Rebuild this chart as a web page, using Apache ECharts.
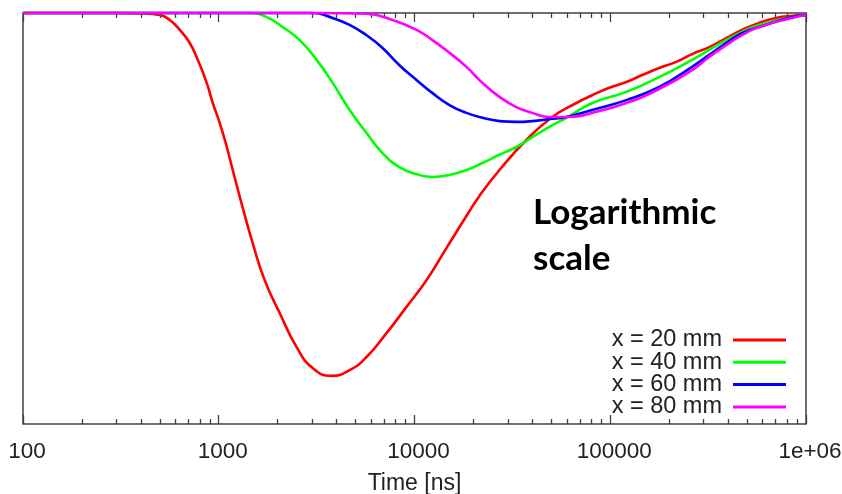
<!DOCTYPE html>
<html>
<head>
<meta charset="utf-8">
<script src="https://cdn.jsdelivr.net/npm/echarts@6/dist/echarts.min.js"></script>
<style>
  html, body { margin: 0; padding: 0; background: #fff; }
  #chart { width: 842px; height: 494px; }
</style>
</head>
<body>
<div id="chart"></div>
<script>
// Signal response vs. time at four distances (time in ns, normalised amplitude)
const seriesNames = ['x = 20 mm', 'x = 40 mm', 'x = 60 mm', 'x = 80 mm'];
const seriesColors = ['#ff0000', '#00ff00', '#0000ff', '#ff00ff'];

const time20 = [100, 200, 300, 395, 500, 562, 632, 711, 781, 868, 932, 1012, 1099, 1179, 1326, 1491, 1716, 2048, 2500, 3017, 3774, 4660, 5690, 7194, 9100, 11510, 14560, 18420, 21460, 27170, 37240, 50580, 67140, 80910, 98850, 120800, 145600, 177800, 217300, 261900, 319900, 390800, 471000, 575400, 703100, 849200, 1000000];
const value20 = [1, 1, 1, 0.999, 0.995, 0.983, 0.959, 0.927, 0.886, 0.830, 0.781, 0.732, 0.674, 0.618, 0.526, 0.440, 0.350, 0.270, 0.187, 0.136, 0.117, 0.131, 0.163, 0.221, 0.285, 0.350, 0.428, 0.506, 0.555, 0.618, 0.691, 0.747, 0.781, 0.800, 0.818, 0.832, 0.849, 0.866, 0.881, 0.900, 0.917, 0.939, 0.959, 0.976, 0.988, 0.993, 0.995];

const time40 = [100, 300, 1000, 1440, 1758, 2122, 2590, 3162, 3819, 4660, 5690, 6869, 8375, 10234, 12360, 15090, 18420, 22230, 27170, 33130, 40000, 48870, 59700, 80910, 120800, 177800, 261900, 319900, 390800, 471000, 575400, 849200, 1000000];
const value40 = [1, 1, 1, 1, 0.990, 0.966, 0.934, 0.886, 0.830, 0.764, 0.708, 0.659, 0.625, 0.608, 0.601, 0.606, 0.618, 0.635, 0.655, 0.674, 0.698, 0.723, 0.745, 0.781, 0.808, 0.844, 0.886, 0.910, 0.934, 0.954, 0.971, 0.990, 0.995];

const time60 = [100, 1000, 3017, 3819, 4660, 5690, 6869, 8375, 10234, 12360, 15090, 18420, 22230, 27170, 33130, 40000, 48870, 59700, 80910, 120800, 177800, 261900, 319900, 390800, 471000, 575400, 849200, 1000000];
const value60 = [1, 1, 1, 0.988, 0.971, 0.946, 0.915, 0.873, 0.837, 0.805, 0.776, 0.757, 0.745, 0.737, 0.735, 0.737, 0.742, 0.747, 0.764, 0.788, 0.820, 0.869, 0.898, 0.927, 0.951, 0.966, 0.990, 0.995];

const time80 = [100, 1000, 3162, 5690, 7727, 10234, 12360, 15090, 18420, 22230, 27170, 33130, 40000, 48870, 59700, 69500, 80910, 120800, 177800, 261900, 319900, 390800, 471000, 575400, 849200, 1000000];
const value80 = [1, 1, 1, 0.998, 0.983, 0.959, 0.934, 0.903, 0.869, 0.830, 0.796, 0.771, 0.757, 0.747, 0.747, 0.749, 0.757, 0.781, 0.815, 0.861, 0.893, 0.922, 0.946, 0.966, 0.988, 0.995];

const majorTicks = [100, 1000, 10000, 100000, 1000000];
const tickLabels = ['100', '1000', '10000', '100000', '1e+06'];

// 2..9 within every decade
const minorTicks = [];
for (let d = 0; d < majorTicks.length - 1; d++) {
  for (let k = 2; k <= 9; k++) minorTicks.push(majorTicks[d] * k);
}

const FONT = '"Liberation Sans", Arial, sans-serif';
const INK = '#404040';

function pairs(ts, vs) { return ts.map((t, i) => [t, vs[i]]); }
const seriesData = [pairs(time20, value20), pairs(time40, value40), pairs(time60, value60), pairs(time80, value80)];

function tickAxis(position, values, length) {
  return {
    type: 'log', logBase: 10, min: 100, max: 1000000, position: position,
    axisLine: { show: false }, splitLine: { show: false }, axisLabel: { show: false },
    axisTick: { show: true, inside: true, length: length, customValues: values,
                lineStyle: { color: INK, width: 1.3 } }
  };
}

const mainX = tickAxis('bottom', majorTicks, 9);
mainX.axisLabel = {
  show: true, fontSize: 22.5, color: '#222', fontFamily: FONT, margin: 16,
  padding: [0, 0, 0, 8],
  formatter: v => {
    const i = majorTicks.indexOf(Math.round(v));
    return i >= 0 ? tickLabels[i] : '';
  }
};
mainX.name = 'Time [ns]';
mainX.nameLocation = 'middle';
mainX.nameGap = 48;
mainX.nameTextStyle = { fontSize: 23, color: '#222', fontFamily: FONT };

const chart = echarts.init(document.getElementById('chart'), null, { renderer: 'canvas' });
chart.setOption({
  animation: false,
  backgroundColor: '#fff',
  grid: { left: 23, right: 36, top: 13, bottom: 70, show: true,
          containLabel: false, outerBoundsMode: 'none',
          borderColor: INK, borderWidth: 1.5, backgroundColor: 'transparent' },
  xAxis: [
    mainX,
    tickAxis('bottom', minorTicks, 5),
    tickAxis('top', majorTicks, 9),
    tickAxis('top', minorTicks, 5)
  ],
  yAxis: { type: 'value', min: 0, max: 1, show: false },
  legend: {
    orient: 'vertical', right: 51, top: 323, align: 'right',
    icon: 'rect', itemWidth: 53, itemHeight: 3, itemGap: -1.7,
    selectedMode: false,
    textStyle: { fontSize: 23.5, color: '#222', fontFamily: FONT,
                 padding: [0, 6, 0, 0] },
    data: seriesNames
  },
  graphic: [{
    type: 'text', left: 533, top: 190, z: 10,
    style: { text: 'Logarithmic\nscale', font: 'bold 35px Lato, "Open Sans", sans-serif',
             fill: '#000', lineHeight: 46 }
  }],
  series: seriesNames.map((name, i) => ({
    name: name, type: 'line', xAxisIndex: 0, data: seriesData[i],
    smooth: 0.5, showSymbol: false, clip: false,
    color: seriesColors[i],
    lineStyle: { color: seriesColors[i], width: 2.6 },
    emphasis: { disabled: true }
  }))
});
</script>
</body>
</html>
